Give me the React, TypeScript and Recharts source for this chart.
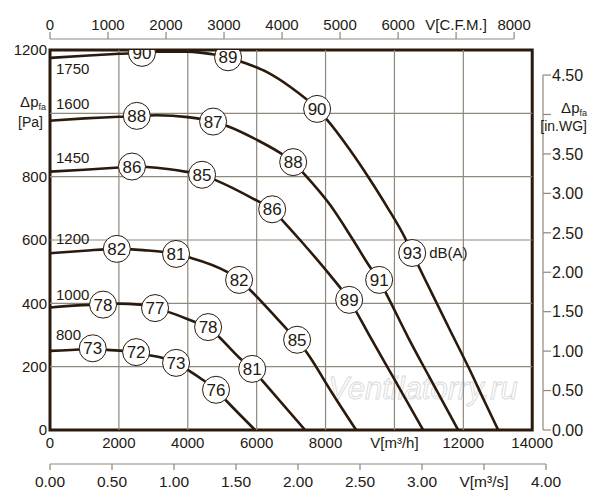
import React from "react";
import {
  ComposedChart,
  Line,
  Scatter,
  XAxis,
  YAxis,
  ReferenceLine,
  ReferenceArea,
  Customized,
} from "recharts";

// ---------- axes / ticks ----------
const Q_MAX = 14400; // m3/h at right edge of plot area (4.00 m3/s)
const Q_PLOT = 14000; // m3/h at plot border
const P_MAX = 1200; // Pa
const PA_PER_INWG = 249.09;
const CFM_MAX = 8550;
const M3S_MAX = 4;

const Q_TICKS = [0, 2000, 4000, 6000, 8000, 10000, 12000, 14000];
const P_TICKS = [0, 200, 400, 600, 800, 1000, 1200];
const CFM_TICKS = [0, 1000, 2000, 3000, 4000, 5000, 6000, 7000, 8000];
const M3S_TICKS = [0, 0.5, 1, 1.5, 2, 2.5, 3, 3.5, 4];
const INWG_TICKS = [0, 0.5, 1, 1.5, 2, 2.5, 3, 3.5, 4, 4.5];
const GRID_Q = [2000, 4000, 6000, 8000, 10000, 12000];
const GRID_P = [200, 400, 600, 800, 1000];

const Q_TITLE_TICK = 10000;
const P_TITLE_TICK = 1000;
const CFM_TITLE_TICK = 7000;
const M3S_TITLE_TICK = 3.5;
const INWG_TITLE_TICK = 4;

// ---------- fan curves (q m3/h, p Pa) ----------
const C800 = [
  { q: 0, p: 250 }, { q: 1040, p: 256 }, { q: 1240, p: 258 }, { q: 1660, p: 253 },
  { q: 2120, p: 250 }, { q: 2500, p: 246 }, { q: 2850, p: 237 }, { q: 3280, p: 227 },
  { q: 3660, p: 212 }, { q: 4010, p: 189 }, { q: 4440, p: 158 }, { q: 4820, p: 127 },
  { q: 5140, p: 90 }, { q: 5954, p: 0 },
];
const C1000 = [
  { q: 0, p: 387 }, { q: 1160, p: 395 }, { q: 1540, p: 396 }, { q: 1975, p: 399 },
  { q: 2610, p: 396 }, { q: 3050, p: 385 }, { q: 3430, p: 373 }, { q: 4210, p: 341 },
  { q: 4590, p: 325 }, { q: 4880, p: 297 }, { q: 5520, p: 226 }, { q: 5870, p: 193 },
  { q: 6170, p: 155 }, { q: 7407, p: 0 },
];
const C1200 = [
  { q: 0, p: 558 }, { q: 1000, p: 566 }, { q: 1940, p: 572 }, { q: 2700, p: 568 },
  { q: 3660, p: 556 }, { q: 4010, p: 546 }, { q: 5140, p: 499 }, { q: 5490, p: 474 },
  { q: 5810, p: 442 }, { q: 6880, p: 318 }, { q: 7174, p: 285 }, { q: 7465, p: 243 },
  { q: 8190, p: 117 }, { q: 8888, p: 0 },
];
const C1450 = [
  { q: 0, p: 816 }, { q: 1000, p: 822 }, { q: 2000, p: 829 }, { q: 2380, p: 832 },
  { q: 3100, p: 828 }, { q: 3920, p: 816 }, { q: 4415, p: 806 }, { q: 4790, p: 790 },
  { q: 6010, p: 724 }, { q: 6450, p: 697 }, { q: 6740, p: 663 }, { q: 7260, p: 600 },
  { q: 8130, p: 489 }, { q: 8685, p: 411 }, { q: 9300, p: 293 }, { q: 10000, p: 160 },
  { q: 10834, p: 0 },
];
const C1600 = [
  { q: 0, p: 977 }, { q: 1000, p: 984 }, { q: 2000, p: 989 }, { q: 2520, p: 992 },
  { q: 3100, p: 994 }, { q: 4000, p: 988 }, { q: 4735, p: 974 }, { q: 5140, p: 960 },
  { q: 6010, p: 916 }, { q: 6680, p: 875 }, { q: 7060, p: 846 }, { q: 7350, p: 812 },
  { q: 8130, p: 711 }, { q: 8800, p: 600 }, { q: 9300, p: 513 }, { q: 9556, p: 474 },
  { q: 9820, p: 418 }, { q: 10400, p: 292 }, { q: 11000, p: 170 }, { q: 11850, p: 0 },
];
const C1750 = [
  { q: 0, p: 1175 }, { q: 1000, p: 1182 }, { q: 2000, p: 1188 }, { q: 2670, p: 1191 },
  { q: 3000, p: 1195 }, { q: 4000, p: 1195 }, { q: 4700, p: 1187 }, { q: 5170, p: 1177 },
  { q: 5580, p: 1162 }, { q: 6300, p: 1130 }, { q: 6970, p: 1084 }, { q: 7755, p: 1014 },
  { q: 8040, p: 980 }, { q: 8710, p: 884 }, { q: 9240, p: 799 }, { q: 9790, p: 704 },
  { q: 10310, p: 606 }, { q: 10515, p: 559 }, { q: 11040, p: 442 }, { q: 11600, p: 318 },
  { q: 12150, p: 198 }, { q: 12600, p: 94 }, { q: 13013, p: 0 },
];

const CURVES = [
  { rpm: "800", data: C800 },
  { rpm: "1000", data: C1000 },
  { rpm: "1200", data: C1200 },
  { rpm: "1450", data: C1450 },
  { rpm: "1600", data: C1600 },
  { rpm: "1750", data: C1750 },
];

// ---------- sound level markers dB(A) ----------
const DB_MARKERS = [
  { q: 1240, p: 258, db: 73 }, { q: 2500, p: 246, db: 72 }, { q: 3660, p: 212, db: 73 }, { q: 4820, p: 127, db: 76 },
  { q: 1540, p: 396, db: 78 }, { q: 3050, p: 385, db: 77 }, { q: 4590, p: 325, db: 78 }, { q: 5870, p: 193, db: 81 },
  { q: 1940, p: 572, db: 82 }, { q: 3660, p: 556, db: 81 }, { q: 5490, p: 474, db: 82 }, { q: 7174, p: 285, db: 85 },
  { q: 2380, p: 832, db: 86 }, { q: 4415, p: 806, db: 85 }, { q: 6450, p: 697, db: 86 }, { q: 8685, p: 411, db: 89 },
  { q: 2520, p: 992, db: 88 }, { q: 4735, p: 974, db: 87 }, { q: 7060, p: 846, db: 88 }, { q: 9556, p: 474, db: 91 },
  { q: 2670, p: 1191, db: 90 }, { q: 5170, p: 1177, db: 89 }, { q: 7755, p: 1014, db: 90 }, { q: 10515, p: 559, db: 93, unit: "dB(A)" },
];

// anchor row so that every axis has displayed data
const ROOT_DATA = [{ q: 0, p: 0 }];

// ---------- layout / style ----------
const W = 592;
const H = 492;
const LEFT_W = 42;
const RIGHT_W = 54;
const TOP_SPACER_H = 11;
const TOP_AXIS_H = 31;
const BOTTOM1_H = 34;
const BOTTOM2_H = 30;
const MARGIN_B = 6;
const PLOT_LEFT = LEFT_W;
const PLOT_BOTTOM = H - MARGIN_B - BOTTOM1_H - BOTTOM2_H;

const FONT = "'Liberation Sans', Arial, sans-serif";
const INK = "#231a12";
const CURVE = "#2a1a0d";
const GRID = "#8f887d";
const AXIS_GREY = "#8f887d";
const FS = 15;

const RPM_LABEL_DY: Record<string, number> = {
  "800": -16, "1000": -13, "1200": -15, "1450": -14, "1600": -17, "1750": 11,
};

const RPM_ANCHORS = CURVES.map((c) => ({ q: c.data[0].q, p: c.data[0].p, rpm: c.rpm }));

const fmt2 = (v: number) => v.toFixed(2);

const PaTick = (props: any) => {
  const { x, y, payload } = props;
  const v = payload.value;
  if (v === P_TITLE_TICK) {
    return (
      <g fontFamily={FONT} fill={INK}>
        <text x={x - 1} y={y - 6.5} textAnchor="end" fontSize={FS}>
          Δp<tspan fontSize={9} dy={3}>fa</tspan>
        </text>
        <text x={x - 4} y={y + 13.5} textAnchor="end" fontSize={FS - 1}>[Pa]</text>
      </g>
    );
  }
  return (
    <text x={x} y={y} dy="0.36em" textAnchor="end" fontSize={FS} fontFamily={FONT} fill={INK}>
      {v}
    </text>
  );
};

const InwgTick = (props: any) => {
  const { x, y, payload } = props;
  const v = payload.value;
  const lx = x - 3;
  const step = v > 0 ? (PLOT_BOTTOM - y) / (v / 0.5) : 0;
  return (
    <g fontFamily={FONT} fill={INK}>
      {v > 0 && <line x1={lx} x2={lx} y1={y} y2={y + step} stroke={AXIS_GREY} strokeWidth={1.2} />}
      <line x1={lx} x2={lx + 8} y1={y} y2={y} stroke={AXIS_GREY} strokeWidth={1.2} />
      {v === INWG_TITLE_TICK ? (
        <>
          <text x={W - 13} y={y - 1} textAnchor="end" fontSize={FS}>
            Δp<tspan fontSize={9} dy={3}>fa</tspan>
          </text>
          <text x={W - 13} y={y + 17} textAnchor="end" fontSize={FS - 1}>[in.WG]</text>
        </>
      ) : (
        <text x={lx + 9} y={y} dy="0.36em" textAnchor="start" fontSize={FS + 1}>
          {fmt2(v)}
        </text>
      )}
    </g>
  );
};

const CfmTick = (props: any) => {
  const { x, y, payload } = props;
  const v = payload.value;
  const axisY = y + 14;
  const step = v > 0 ? (x - PLOT_LEFT) / (v / 1000) : 0;
  return (
    <g fontFamily={FONT} fill={INK}>
      {v > 0 && <line x1={x - step} x2={x} y1={axisY} y2={axisY} stroke={AXIS_GREY} strokeWidth={1.2} />}
      <line x1={x} x2={x} y1={axisY} y2={axisY - 7} stroke={AXIS_GREY} strokeWidth={1.2} />
      <text x={x} y={y} dy="0.36em" textAnchor="middle" fontSize={FS}>
        {v === CFM_TITLE_TICK ? "V[C.F.M.]" : v}
      </text>
    </g>
  );
};

const QTick = (props: any) => {
  const { x, y, payload } = props;
  const v = payload.value;
  return (
    <text x={x} y={y} dy="0.36em" textAnchor="middle" fontSize={FS} fontFamily={FONT} fill={INK}>
      {v === Q_TITLE_TICK ? "V[m³/h]" : v}
    </text>
  );
};

const M3sTick = (props: any) => {
  const { x, y, payload } = props;
  const v = payload.value;
  return (
    <text x={x} y={y} dy="0.36em" textAnchor="middle" fontSize={FS + 0.5} fontFamily={FONT} fill={INK}>
      {v === M3S_TITLE_TICK ? "V[m³/s]" : fmt2(v)}
    </text>
  );
};

const MarkerShape = (props: any) => {
  const { cx, cy, payload } = props;
  if (cx == null || cy == null) return null;
  return (
    <g fontFamily={FONT}>
      <circle cx={cx} cy={cy} r={13.5} fill="#ffffff" stroke={CURVE} strokeWidth={1} />
      <text x={cx} y={cy} dy="0.36em" textAnchor="middle" fontSize={17} fill={INK}>
        {payload.db}
      </text>
      {payload.unit && (
        <text x={cx + 17} y={cy} dy="0.36em" textAnchor="start" fontSize={FS} fill={INK}>
          {payload.unit}
        </text>
      )}
    </g>
  );
};

const RpmShape = (props: any) => {
  const { cx, cy, payload } = props;
  if (cx == null || cy == null) return null;
  const dy = RPM_LABEL_DY[payload.rpm] ?? -14;
  return (
    <text x={cx + 6} y={cy + dy} dy="0.36em" textAnchor="start" fontSize={FS} fontFamily={FONT} fill={INK}>
      {payload.rpm}
    </text>
  );
};

const Watermark = () => (
  <text
    x={415}
    y={380}
    dy="0.36em"
    textAnchor="middle"
    fontSize={31}
    fontStyle="italic"
    fontFamily={FONT}
    fill="#ffffff"
    stroke="#d9d9d9"
    strokeWidth={0.9}
  >
    Ventilatorry.ru
  </text>
);

export default function App() {
  return (
    <div style={{ width: W, height: H, fontFamily: FONT, background: "#fff" }}>
      <ComposedChart width={W} height={H} data={ROOT_DATA} margin={{ top: 0, right: 0, bottom: MARGIN_B, left: 0 }}>
        {/* bottom axes */}
        <XAxis
          xAxisId="m3h"
          dataKey="q"
          type="number"
          orientation="bottom"
          domain={[0, Q_MAX]}
          ticks={Q_TICKS}
          interval={0}
          height={BOTTOM1_H}
          axisLine={false}
          tickLine={false}
          tickSize={0}
          tickMargin={13}
          tick={QTick}
          allowDataOverflow
        />
        <XAxis
          xAxisId="m3s"
          dataKey="q"
          type="number"
          orientation="bottom"
          domain={[0, M3S_MAX]}
          ticks={M3S_TICKS}
          interval={0}
          height={BOTTOM2_H}
          axisLine={{ stroke: AXIS_GREY, strokeWidth: 1.2 }}
          tickLine={{ stroke: AXIS_GREY, strokeWidth: 1.2 }}
          tickSize={6}
          tickMargin={11}
          tick={M3sTick}
          allowDataOverflow
        />
        {/* top axes */}
        <XAxis
          xAxisId="cfm"
          dataKey="q"
          type="number"
          orientation="top"
          domain={[0, CFM_MAX]}
          ticks={CFM_TICKS}
          interval={0}
          height={TOP_AXIS_H}
          axisLine={false}
          tickLine={false}
          tickSize={7}
          tickMargin={7}
          tick={CfmTick}
          allowDataOverflow
        />
        <XAxis
          xAxisId="aSpacer"
          dataKey="q"
          type="number"
          orientation="top"
          domain={[0, 1]}
          height={TOP_SPACER_H}
          axisLine={false}
          tickLine={false}
          tick={false}
          allowDataOverflow
        />
        {/* y axes */}
        <YAxis
          yAxisId="pa"
          type="number"
          orientation="left"
          domain={[0, P_MAX]}
          ticks={P_TICKS}
          interval={0}
          width={LEFT_W}
          axisLine={false}
          tickLine={false}
          tickSize={0}
          tickMargin={3}
          tick={PaTick}
          allowDataOverflow
        />
        <YAxis
          yAxisId="inwg"
          type="number"
          orientation="right"
          domain={[0, P_MAX / PA_PER_INWG]}
          ticks={INWG_TICKS}
          interval={0}
          width={RIGHT_W}
          axisLine={false}
          tickLine={false}
          tickSize={0}
          tickMargin={0}
          tick={InwgTick}
          allowDataOverflow
        />

        {/* grid */}
        {GRID_Q.map((q) => (
          <ReferenceLine key={"gq" + q} xAxisId="m3h" yAxisId="pa" x={q} stroke={GRID} strokeWidth={1.2} />
        ))}
        {GRID_P.map((p) => (
          <ReferenceLine
            key={"gp" + p}
            xAxisId="m3h"
            yAxisId="pa"
            segment={[{ x: 0, y: p }, { x: Q_PLOT, y: p }]}
            stroke={GRID}
            strokeWidth={1.2}
          />
        ))}

        <Customized component={<Watermark />} />

        {/* frame */}
        <ReferenceArea
          xAxisId="m3h"
          yAxisId="pa"
          x1={0}
          x2={Q_PLOT}
          y1={0}
          y2={P_MAX}
          fill="none"
          fillOpacity={0}
          stroke={CURVE}
          strokeWidth={3}
          ifOverflow="visible"
        />

        {/* fan curves */}
        {CURVES.map((c) => (
          <Line
            key={c.rpm}
            xAxisId="m3h"
            yAxisId="pa"
            data={c.data}
            dataKey="p"
            type="monotone"
            stroke={CURVE}
            strokeWidth={2.6}
            dot={false}
            activeDot={false}
            isAnimationActive={false}
          />
        ))}

        {/* rpm labels */}
        <Scatter
          xAxisId="m3h"
          yAxisId="pa"
          data={RPM_ANCHORS}
          dataKey="p"
          shape={RpmShape}
          isAnimationActive={false}
        />

        {/* dB(A) markers */}
        <Scatter
          xAxisId="m3h"
          yAxisId="pa"
          data={DB_MARKERS}
          dataKey="p"
          shape={MarkerShape}
          isAnimationActive={false}
        />
      </ComposedChart>
    </div>
  );
}
